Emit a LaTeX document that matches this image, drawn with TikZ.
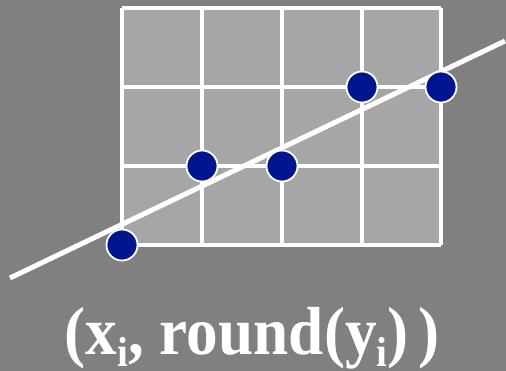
\documentclass[tikz,border=0pt]{standalone}
\usepackage{fontspec}
\setmainfont{Liberation Serif}[BoldFont={Liberation Serif Bold}]
\usepackage{xcolor}
\usetikzlibrary{positioning}
\definecolor{bggray}{HTML}{808080}
\definecolor{cellgray}{HTML}{A6A6A6}
\definecolor{dotblue}{HTML}{001590}
\tikzset{
	pixel/.style={circle, fill=dotblue, draw=white, line width=1.8pt, minimum size=31pt, inner sep=0pt}
}
\newcommand{\lowsub}[1]{\raisebox{-12pt}{\fontsize{42}{42}\selectfont #1}}
\begin{document}
\begin{tikzpicture}[x=1pt, y=-1pt]
		\fill[bggray] (0,0) rectangle (506,371);
		\useasboundingbox (0,0) rectangle (506,371);
		\fill[cellgray] (122,8) rectangle (441,245);
		% grid of pixels
		\foreach \gx in {122,202,282,362,441}
			\draw[white, line width=3.2pt] (\gx,8) -- (\gx,245);
		\foreach \gy in {8,87,166,245}
			\draw[white, line width=3.2pt] (122,\gy) -- (441,\gy);
		
		\coordinate (L1) at (10,278);
		\coordinate (L2) at (505,41);
		\draw[white, line width=5pt] (L1) -- (L2);
		
		\node[pixel] (p1) at (122,245) {};
		\node[pixel] (p2) at (202,166) {};
		\node[pixel] (p3) at (282,166) {};
		\node[pixel] (p4) at (362,87) {};
		\node[pixel] (p5) at (441,87) {};
		
		\node[anchor=base, text=white, font=\bfseries\fontsize{68}{72}\selectfont, inner sep=0pt] (label) at (252,355) {\scalebox{0.93}[1]{(x\lowsub{i}, round(y\lowsub{i})\hspace{0.15em})}};
	\end{tikzpicture}
\end{document}
